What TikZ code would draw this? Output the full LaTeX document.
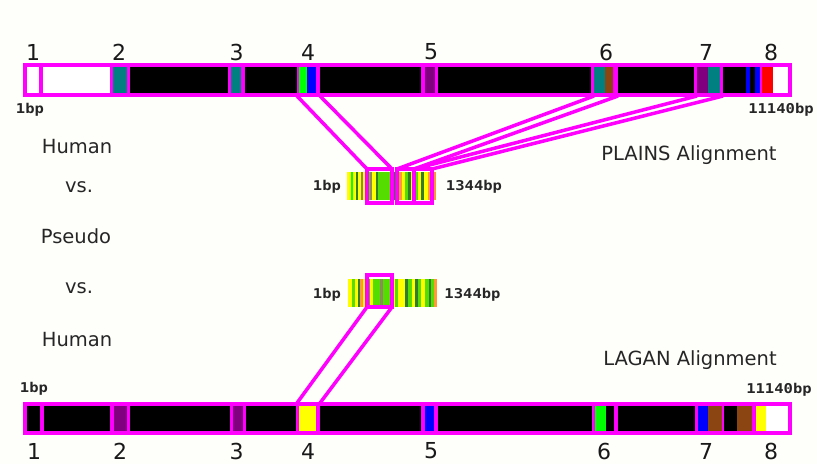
\documentclass[tikz,border=0pt]{standalone}
\usepackage{fontspec}
\setmainfont{DejaVu Sans}
\newfontfamily\bpfont[FakeStretch=1.15]{DejaVu Sans Mono}
\definecolor{mag}{HTML}{FF00FF}
\definecolor{tl}{HTML}{008080}
\definecolor{purp}{HTML}{800080}
\definecolor{brn}{HTML}{8B4513}
\definecolor{grn}{HTML}{00FF00}
\definecolor{ylw}{HTML}{FFFF00}
\definecolor{dkg}{HTML}{2E7D32}
\definecolor{org}{HTML}{FF9933}
\definecolor{lgr}{HTML}{55DD00}
\definecolor{gry}{HTML}{8A8A5A}
\definecolor{bg}{HTML}{FEFEFA}
\begin{document}
\begin{tikzpicture}[x=1pt,y=-1pt,
  num/.style={font=\fontsize{22}{22}\selectfont, text=black!90},
  lbl/.style={font=\fontsize{19.5}{19.5}\selectfont, text=black!85, anchor=base},
  bp/.style={font=\bpfont\bfseries\fontsize{13.5}{13.5}\selectfont, text=black!85, anchor=base},
  link/.style={draw=mag, line width=3.5pt},
  hit/.style={draw=mag, line width=3.5pt, inner sep=0pt, outer sep=0pt}]
\fill[bg] (0,0) rectangle (817,464);
\useasboundingbox (0,0) rectangle (817,464);

% ---------- upper human sequence ----------
\fill[mag] (23,63) rectangle (792,97);
\foreach \a/\b/\c in {27/39/white, 43/110/white, 113/127/tl, 130/228/black,
    231/241/tl, 245/297/black, 299/307/grn, 307/316/blue, 320/421/black,
    425/435/purp, 438/591/black, 594/605/tl, 605/613/brn, 618/694/black,
    697/708/purp, 708/720/tl, 723/746/black, 746/750/blue, 750/755/black,
    755/760/blue, 762/773/red, 773/788/white}
  \fill[\c] (\a,67) rectangle (\b,93);

% ---------- lower human sequence ----------
\fill[mag] (23,402) rectangle (792,435);
\foreach \a/\b/\c in {27/40/black, 44/110/black, 114/127/purp, 130/230/black,
    233/243/purp, 246/296/black, 299/316/ylw, 320/421/black,
    425/434/blue, 438/592/black, 595/606/grn, 606/614/black, 618/695/black,
    698/708/blue, 708/722/brn, 724/737/black, 737/752/brn, 756/766/ylw,
    766/788/white}
  \fill[\c] (\a,406) rectangle (\b,431);

% ---------- pseudogene, PLAINS ----------
\foreach \a/\b/\c in {347/351/ylw, 351/353/grn, 353/356/ylw, 356/358/dkg,
    358/361/ylw, 361/363/gry, 363/367/ylw, 367/370/lgr, 370/372/gry,
    372/376/ylw, 376/378/dkg, 378/392/lgr, 392/395/dkg, 395/398/ylw,
    398/402/org, 402/405/ylw, 405/408/lgr, 408/411/dkg, 411/415/ylw,
    415/418/lgr, 418/421/ylw, 421/424/dkg, 424/428/ylw, 428/431/org,
    431/434/lgr, 434/436/org}
  \fill[\c] (\a,172) rectangle (\b,200);

% ---------- pseudogene, LAGAN ----------
\foreach \a/\b/\c in {348/352/ylw, 352/355/lgr, 355/358/ylw, 358/360/dkg,
    360/363/org, 363/367/ylw, 367/370/gry, 370/373/ylw, 373/380/lgr,
    380/383/gry, 383/392/lgr, 392/395/ylw, 395/398/lgr, 398/405/ylw,
    405/408/dkg, 408/412/lgr, 412/415/ylw, 415/418/dkg, 418/421/lgr,
    421/425/ylw, 425/429/lgr, 429/431/dkg, 431/434/lgr, 434/437/org}
  \fill[\c] (\a,279) rectangle (\b,307);

% ---------- aligned blocks on the pseudogene ----------
\node[hit, minimum width=25pt, minimum height=34pt] (pA) at (379.5,186) {};
\node[hit, minimum width=17pt, minimum height=34pt] (pB) at (405.5,186) {};
\node[hit, minimum width=18pt, minimum height=34pt] (pC) at (423,186) {};
\node[hit, minimum width=25pt, minimum height=32pt] (pD) at (379.5,291) {};

% ends of the links on the human sequences
\coordinate (u4l) at (297,96);  \coordinate (u4r) at (320,96);
\coordinate (u6l) at (594,96);  \coordinate (u6r) at (618,96);
\coordinate (u7l) at (697,96);  \coordinate (u7r) at (723,96);
\coordinate (d4l) at (297,403); \coordinate (d4r) at (320,403);

\draw[link] (u4l) -- (pA.north west);
\draw[link] (u4r) -- (pA.north east);
\draw[link] (u6l) -- (pB.north west);
\draw[link] (u6r) -- (pB.north east);
\draw[link] (u7l) -- (pC.north west);
\draw[link] (u7r) -- (pC.north east);
\draw[link] (pD.south west) -- (d4l);
\draw[link] (pD.south east) -- (d4r);

% ---------- exon numbers ----------
\foreach \x/\t in {33/1, 119/2, 236.5/3, 308/4, 431/5, 606/6, 706/7, 771/8}
  \node[num] (top\t) at (\x,52) {\t};
\foreach \x/\t in {34/1, 120/2, 236.5/3, 308/4, 431/5, 604/6, 706/7, 771/8}
  \node[num] (bot\t) at (\x,451) {\t};

% ---------- coordinates ----------
\node[bp] (ts) at (30,113) {1bp};
\node[bp] (te) at (781,113) {11140bp};
\node[bp] (bs) at (34,392) {1bp};
\node[bp] (be) at (779,393) {11140bp};
\node[bp] (ps1) at (327,190) {1bp};
\node[bp] (pe1) at (474,190) {1344bp};
\node[bp] (ps2) at (327,298) {1bp};
\node[bp] (pe2) at (472.5,298) {1344bp};

% ---------- captions ----------
\node[lbl] (h1) at (77,153) {Human};
\node[lbl] (v1) at (79,192) {vs.};
\node[lbl] (ps) at (76,243) {Pseudo};
\node[lbl] (v2) at (79,293) {vs.};
\node[lbl] (h2) at (77,346) {Human};
\node[lbl] (plains) at (689,160) {PLAINS Alignment};
\node[lbl] (lagan) at (690,365) {LAGAN Alignment};
\end{tikzpicture}
\end{document}
